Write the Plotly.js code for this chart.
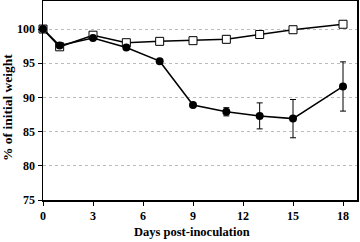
<!DOCTYPE html>
<html><head><meta charset="utf-8">
<script src="https://cdn.plot.ly/plotly-3.0.1.min.js"></script>
<style>html,body{margin:0;padding:0;background:#fff;}#chart{width:360px;height:242px;}</style>
</head><body><div id="chart"></div>
<script>
const days = [0, 1, 3, 5, 7, 9, 11, 13, 15, 18];
const controlValues = [100, 97.4, 99.1, 98.0, 98.2, 98.3, 98.5, 99.2, 99.9, 100.7];
const controlErrors = [0, 0.2, 0.2, 0.2, 0.2, 0.3, 0.5, 0.4, 0.3, 0.4];
const infectedValues = [100, 97.6, 98.7, 97.3, 95.3, 88.9, 87.9, 87.3, 86.9, 91.6];
const infectedErrors = [0, 0.2, 0.2, 0.2, 0.2, 0.3, 0.6, 1.9, 2.8, 3.6];
const xTicks = [0, 3, 6, 9, 12, 15, 18];
const yTicks = [75, 80, 85, 90, 95, 100];

const font = {family: '"Liberation Serif", "Times New Roman", serif', color: '#000'};
const traces = [
  {x: days, y: controlValues, mode: 'lines+markers', cliponaxis: false,
   line: {color: '#000', width: 1.5},
   marker: {symbol: 'square', size: 8, color: '#fff', line: {color: '#000', width: 1}},
   error_y: {type: 'data', array: controlErrors, visible: true, color: '#000', thickness: 1, width: 3}},
  {x: days, y: infectedValues, mode: 'lines+markers', cliponaxis: false,
   line: {color: '#000', width: 1.5},
   marker: {symbol: 'circle', size: 8, color: '#000'},
   error_y: {type: 'data', array: infectedErrors, visible: true, color: '#000', thickness: 1, width: 3}}
];
const layout = {
  width: 360, height: 242, showlegend: false,
  margin: {l: 43, r: 3, t: 1, b: 42},
  paper_bgcolor: '#fff', plot_bgcolor: '#fff',
  font: Object.assign({size: 12}, font),
  xaxis: {range: [0, 18.84], tickvals: xTicks, ticktext: xTicks.map(v => '<b>' + v + '</b>'),
    showgrid: false, zeroline: false, showline: true, mirror: true, linecolor: '#000', linewidth: 1.5,
    ticks: 'outside', ticklen: 4, tickcolor: '#000',
    tickfont: Object.assign({size: 12}, font)},
  yaxis: {range: [75, 104.1], tickvals: yTicks, ticktext: yTicks.map(v => '<b>' + v + '</b>'),
    showgrid: true, gridcolor: '#bbb', griddash: 'dot', gridwidth: 1,
    zeroline: false, showline: true, mirror: true, linecolor: '#000', linewidth: 1.5,
    ticks: 'outside', ticklen: 4, tickcolor: '#000',
    tickfont: Object.assign({size: 12}, font)},
  annotations: [
    {text: '<b>Days post-inoculation</b>', xref: 'paper', yref: 'paper', x: 0.4745, y: -0.161,
     xanchor: 'center', yanchor: 'middle', showarrow: false, font: Object.assign({size: 12.5}, font)},
    {text: '<b>% of initial weight</b>', xref: 'paper', yref: 'paper', x: -0.1146, y: 0.462,
     xanchor: 'center', yanchor: 'middle', textangle: -90, showarrow: false, font: Object.assign({size: 13.5}, font)}
  ]
};
Plotly.newPlot('chart', traces, layout, {staticPlot: true, displayModeBar: false});
</script></body></html>
